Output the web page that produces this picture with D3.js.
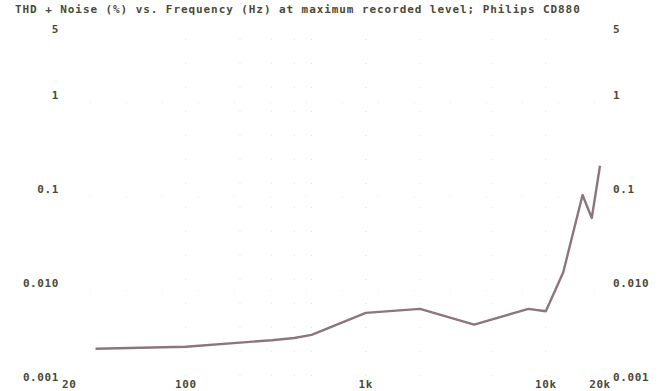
<!DOCTYPE html>
<html>
<head>
<meta charset="utf-8">
<script src="https://cdn.jsdelivr.net/npm/d3@7"></script>
<style>
  body { margin: 0; background: #fff; }
  text { font-family: "DejaVu Sans Mono", "Liberation Mono", monospace; font-weight: bold; fill: #4a4a38; }
</style>
</head>
<body>
<div id="vis"></div>
<script>
// frequency (Hz) and THD+N (%)
const freqs = [31.5, 100, 200, 300, 400, 500, 1000, 2000, 4000, 8000, 10000, 12500, 16000, 18000, 20000]
const thdn = [0.002, 0.0021, 0.00232, 0.00246, 0.0026, 0.0028, 0.0048, 0.0053, 0.0036, 0.0053, 0.005, 0.013, 0.086, 0.049, 0.176]

const xTicks = [20, 100, 1000, 10000, 20000]
const xTickLabels = ['20', '100', '1k', '10k', '20k']
const yTicks = [5, 1, 0.1, 0.01, 0.001]
const yTickLabels = ['5', '1', '0.1', '0.010', '0.001']

const title = 'THD + Noise (%) vs. Frequency (Hz) at maximum recorded level; Philips CD880'

const width = 662, height = 391

const svg = d3.select('#vis').append('svg')
  .attr('width', width)
  .attr('height', height)

// log scales: one decade is ~180px across and ~94px down
const x = d3.scaleLog().domain([20, 20000]).range([60, 600])
const y = d3.scaleLog().domain([0.001, 5]).range([377, 29])

// title
svg.append('text')
  .attr('x', 15)
  .attr('y', 13)
  .attr('font-size', 11)
  .attr('letter-spacing', 0.92)
  .text(title)

// faint dotted grid (barely visible in the scan)
const gridX = [100, 200, 300, 400, 500, 1000, 2000, 5000, 10000]
const gridY = [1, 0.1, 0.01]
svg.append('g').selectAll('line')
  .data(gridX)
  .enter().append('line')
  .attr('x1', d => x(d)).attr('x2', d => x(d))
  .attr('y1', y(5) + 10).attr('y2', y(0.001))
  .attr('stroke', '#e2e2da')
  .attr('stroke-dasharray', '1,23')
svg.append('g').selectAll('line')
  .data(gridY)
  .enter().append('line')
  .attr('x1', x(20) + 30).attr('x2', x(20000))
  .attr('y1', d => y(d) + 8).attr('y2', d => y(d) + 8)
  .attr('stroke', '#e6e6de')
  .attr('stroke-dasharray', '1,35')

// y labels left (right-aligned) and right (left-aligned)
svg.append('g').selectAll('text')
  .data(yTicks)
  .enter().append('text')
  .attr('x', 59)
  .attr('y', d => y(d) + 4)
  .attr('text-anchor', 'end')
  .attr('font-size', 11)
  .attr('letter-spacing', 0.6)
  .text((d, i) => yTickLabels[i])

svg.append('g').selectAll('text')
  .data(yTicks)
  .enter().append('text')
  .attr('x', 613)
  .attr('y', d => y(d) + 4)
  .attr('font-size', 11)
  .attr('letter-spacing', 0.6)
  .text((d, i) => yTickLabels[i])

// x labels
svg.append('g').selectAll('text')
  .data(xTicks)
  .enter().append('text')
  .attr('x', (d, i) => i === 0 ? x(d) + 2 : x(d))
  .attr('y', 388)
  .attr('text-anchor', (d, i) => i === 0 ? 'start' : 'middle')
  .attr('font-size', 11)
  .attr('letter-spacing', 0.6)
  .text((d, i) => xTickLabels[i])

// the curve
const line = d3.line()
  .x((d, i) => x(freqs[i]))
  .y(d => y(d))

svg.append('path')
  .datum(thdn)
  .attr('d', line)
  .attr('fill', 'none')
  .attr('stroke', '#8c767b')
  .attr('stroke-width', 2.4)
  .attr('stroke-linejoin', 'round')
</script>
</body>
</html>
